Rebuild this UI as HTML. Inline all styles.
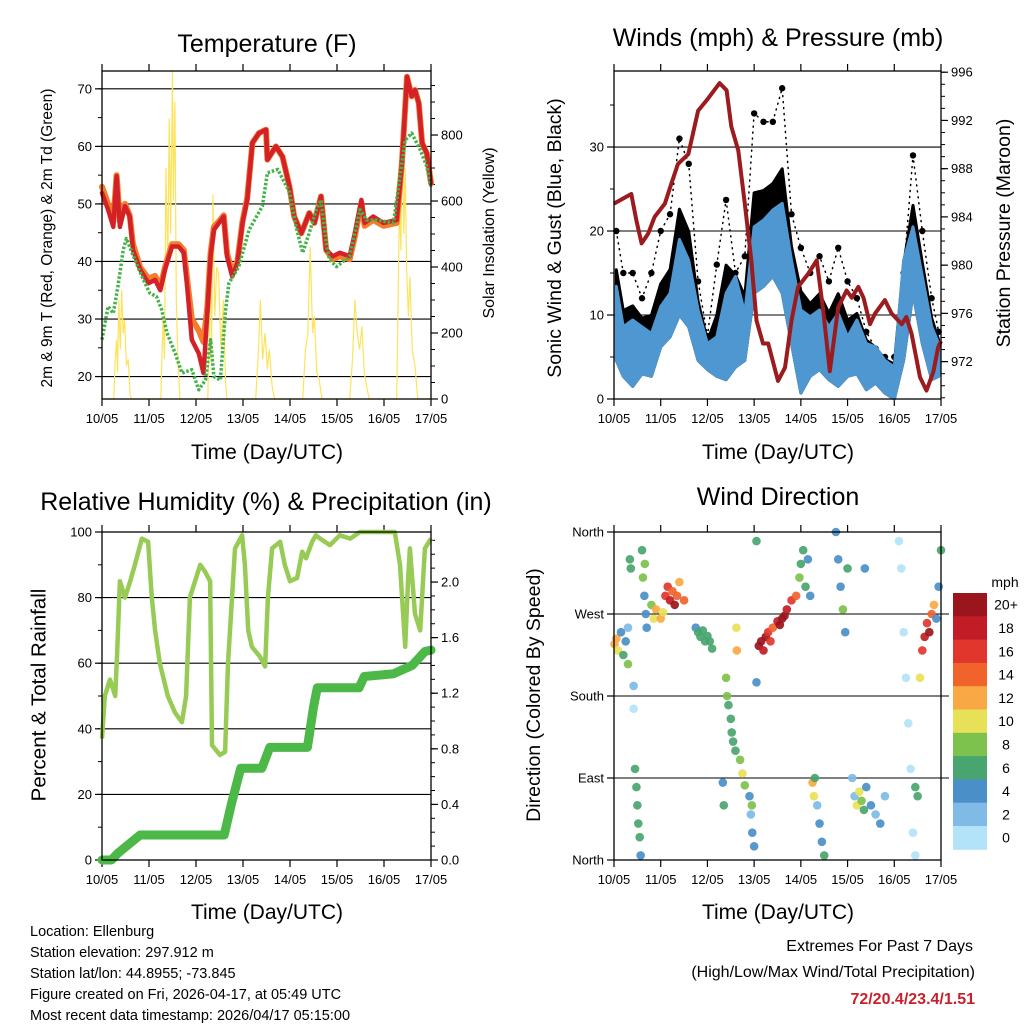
<!DOCTYPE html>
<html><head><meta charset="utf-8">
<style>
html,body{margin:0;padding:0;background:#fff;}
svg{display:block;font-family:"Liberation Sans",sans-serif;}
</style></head>
<body>
<svg id="chart" width="1024" height="1024" viewBox="0 0 1024 1024" xmlns="http://www.w3.org/2000/svg">
<rect x="0" y="0" width="1024" height="1024" fill="#fff"/>
<text x="267" y="52" font-size="25" text-anchor="middle">Temperature (F)</text>
<text x="778" y="46" font-size="25" text-anchor="middle">Winds (mph) &amp; Pressure (mb)</text>
<text x="266" y="510" font-size="25" text-anchor="middle">Relative Humidity (%) &amp; Precipitation (in)</text>
<text x="778" y="505" font-size="25" text-anchor="middle">Wind Direction</text>

<text x="267" y="459" font-size="21" text-anchor="middle">Time (Day/UTC)</text>
<text x="778" y="459" font-size="21" text-anchor="middle">Time (Day/UTC)</text>
<text x="267" y="919" font-size="21" text-anchor="middle">Time (Day/UTC)</text>
<text x="778" y="919" font-size="21" text-anchor="middle">Time (Day/UTC)</text>

<text transform="translate(48,238) rotate(-90)" font-size="15.5" text-anchor="middle" dominant-baseline="middle">2m &amp; 9m T (Red, Orange) &amp; 2m Td (Green)</text>
<text transform="translate(490,233) rotate(-90)" font-size="16" text-anchor="middle" dominant-baseline="middle">Solar Insolation (Yellow)</text>
<text transform="translate(556,238) rotate(-90)" font-size="19.5" text-anchor="middle" dominant-baseline="middle">Sonic Wind &amp; Gust (Blue, Black)</text>
<text transform="translate(1005,233) rotate(-90)" font-size="19.5" text-anchor="middle" dominant-baseline="middle">Station Pressure (Maroon)</text>
<text transform="translate(40,695) rotate(-90)" font-size="20.5" text-anchor="middle" dominant-baseline="middle">Percent &amp; Total Rainfall</text>
<text transform="translate(535,695) rotate(-90)" font-size="19.5" text-anchor="middle" dominant-baseline="middle">Direction (Colored By Speed)</text>

<g font-size="14.5">
<text x="30" y="936">Location: Ellenburg</text>
<text x="30" y="957">Station elevation: 297.912 m</text>
<text x="30" y="978">Station lat/lon: 44.8955; -73.845</text>
<text x="30" y="999">Figure created on Fri, 2026-04-17, at 05:49 UTC</text>
<text x="30" y="1020">Most recent data timestamp: 2026/04/17 05:15:00</text>
</g>
<text x="973" y="951" font-size="16" text-anchor="end">Extremes For Past 7 Days</text>
<text x="975" y="977" font-size="16" text-anchor="end">(High/Low/Max Wind/Total Precipitation)</text>
<text x="975" y="1004" font-size="16" font-weight="bold" fill="#c8202a" text-anchor="end">72/20.4/23.4/1.51</text>
<text x="1005" y="587" font-size="14" text-anchor="middle">mph</text>
</svg>
<script>
// ---------- DATA ----------
const dayLabels = ['10/05','11/05','12/05','13/05','14/05','15/05','16/05','17/05'];
// Temperature (days since 10/05 00 UTC)
const tempT = [0,0.13,0.24,0.31,0.38,0.49,0.59,0.66,0.81,0.99,1.13,1.24,1.34,1.49,1.63,1.74,1.81,1.91,2.06,2.16,2.24,2.31,2.38,2.49,2.59,2.66,2.77,2.88,2.99,3.09,3.2,3.34,3.49,3.52,3.7,3.84,3.99,4.09,4.24,4.41,4.52,4.66,4.77,4.91,5.06,5.27,5.38,5.52,5.59,5.77,5.99,6.27,6.38,6.49,6.59,6.66,6.74,6.81,6.91,7.0];
const temp2m = [51.9,49,46,54.8,46,49.6,47.8,42,38.6,36.2,36.8,35,38.6,42.6,42.6,41.5,35.7,26.4,24,20.6,31,40.9,45.5,46.7,47.8,40.9,37.4,39.7,46.7,50.7,60.6,62.3,62.9,57.7,60,58.2,53,47.8,44.9,48.4,46.7,51.3,42,40.9,41.5,40.9,44.9,50.7,46.7,47.8,46.7,47.2,57.1,72.1,68.7,69.8,67.5,60.6,58.8,53.6];
const temp9m = [53,50,47,55,47,50,48,43,39,37,37.5,35.5,39,43,43,42,37,30,28,26,32,41.5,46,47,48,41.5,38,40,47,51,60.6,62.3,62.9,57.7,60,58.2,53,47.8,44.9,48.4,46.7,51.3,42,40.4,40.9,40.4,44.4,50.2,46.2,47.2,46.2,46.7,57.1,72.1,68.7,69.8,67.5,60.6,58.8,53.6];
const dewT = [0,0.13,0.24,0.34,0.45,0.52,0.7,0.88,1.02,1.16,1.27,1.38,1.56,1.7,1.91,2.06,2.2,2.31,2.38,2.52,2.63,2.7,2.91,3.13,3.41,3.52,3.74,3.99,4.13,4.27,4.41,4.56,4.66,4.77,4.84,4.99,5.27,5.49,5.63,5.84,6.2,6.34,6.45,6.59,6.77,6.91,7.0];
const dewV = [26.4,32.2,31,35.7,42,44,40.3,36.8,34.5,33.9,31.6,27.6,24,20.6,21.2,17.7,19.4,26.4,20,19.4,31.6,36.2,39.1,45.5,49.6,55.4,56,52,46,41.5,45,49,50.7,43.2,40.3,39.1,40.9,49,47.2,47.2,46.7,54.8,61.1,62.3,59.4,56.5,53];
const solarT = [0,0.25,0.28,0.31,0.33,0.36,0.39,0.42,0.45,0.48,0.52,0.56,0.6,0.63,1.25,1.3,1.33,1.36,1.4,1.43,1.46,1.5,1.52,1.55,1.58,1.62,1.66,2.25,2.28,2.31,2.33,2.36,2.4,2.44,2.48,2.53,2.58,2.63,2.66,3.27,3.33,3.37,3.42,3.47,3.52,3.56,3.62,3.67,4.27,4.33,4.38,4.43,4.48,4.52,4.57,4.62,4.68,5.27,5.33,5.38,5.43,5.48,5.53,5.58,5.64,5.69,6.27,6.3,6.33,6.36,6.39,6.42,6.45,6.48,6.52,6.55,6.6,6.66,6.72,7.0];
const solarV = [0,0,120,180,80,300,150,330,200,240,100,120,10,0,0,250,120,700,400,850,500,994,600,900,300,100,0,0,200,450,100,620,250,400,380,150,300,50,0,0,150,300,120,200,90,150,40,0,0,150,200,460,200,250,80,60,0,0,120,300,200,150,220,80,30,0,0,300,600,450,845,500,700,400,250,370,150,100,0,0];
// Winds
const windT = [0.05,0.2,0.4,0.6,0.8,1.0,1.2,1.4,1.6,1.8,2.0,2.2,2.4,2.6,2.8,3.0,3.2,3.4,3.6,3.8,4.0,4.2,4.4,4.6,4.8,5.0,5.2,5.4,5.6,5.8,6.0,6.2,6.4,6.6,6.8,6.95];
const windHi = [13.4,8.6,9.4,8.6,7.8,11,12.6,19,16.5,10.6,6.6,7.4,12.6,14.6,10.2,20.5,21.3,22.5,23.3,16.5,10.6,9.8,10.6,8.6,10.2,7.4,9.4,6.6,6.2,4.6,3.8,16.5,20.5,14.6,8.6,6.6];
const windLo = [4.6,2.7,1.5,3,2.7,6.2,7.4,10,8.6,4.6,3.5,2.7,2.3,3.8,4.6,12.6,13.4,14.6,12.6,6.6,0.7,2.7,3.5,2.3,1.5,2.7,3,1.1,1.9,0.7,0,4.6,12.6,6.6,2.3,2.7];
const gustV = [20,15,15,12,15,20,22,31,28,14,7.5,16,23.7,15,17,34,33,33,37,22,18,15,17,14,18,14,12,8,6,5,5,15,29,20,12,8];
const presT = [0,0.23,0.37,0.48,0.59,0.73,0.87,1.09,1.23,1.37,1.59,1.8,2.01,2.26,2.41,2.51,2.66,2.8,2.94,3.05,3.19,3.3,3.51,3.66,3.8,3.94,4.16,4.34,4.48,4.62,4.8,4.98,5.09,5.23,5.34,5.48,5.59,5.8,5.94,6.16,6.26,6.37,6.55,6.69,6.84,6.94,7.0];
const presV = [985.1,985.6,985.9,983.7,981.8,982.6,984,985.1,986.8,988.4,989.2,992.8,993.8,995.1,994.5,991.5,989.5,985.1,980.4,975.4,973.5,973.5,970.4,971.5,975.4,978.2,979.3,980.4,976.2,971.2,976.5,977.9,977.3,978.2,977.3,975.1,976,977.1,976,975.1,975.7,974.3,970.7,969.6,971.2,973.2,973.7];
// Humidity & precipitation
const rhT = [0,0.06,0.17,0.28,0.32,0.38,0.49,0.6,0.7,0.85,0.98,1.06,1.13,1.23,1.4,1.55,1.7,1.79,1.87,2.09,2.19,2.3,2.34,2.51,2.62,2.68,2.83,2.98,3.04,3.11,3.19,3.36,3.47,3.53,3.62,3.79,3.89,4.0,4.15,4.26,4.34,4.47,4.55,4.64,4.85,5.06,5.28,5.49,6.23,6.34,6.45,6.51,6.55,6.66,6.77,6.87,7.0];
const rhV = [37,50,55,50,62,85,80,85,90,98,97,80,70,60,50,45,42,50,80,90,88,85,35,32,33,60,95,99,90,70,65,62,59,80,95,97,90,85,86,94,92,97,99,98,96,99,98,100,100,90,65,85,95,75,70,95,98];
const rainT = [0,0.2,0.34,0.81,2.6,2.75,2.95,3.4,3.57,4.37,4.5,4.58,5.47,5.58,6.2,6.6,6.87,7.0];
const rainV = [0,0,0.05,0.18,0.18,0.4,0.66,0.66,0.81,0.81,1.1,1.24,1.24,1.32,1.34,1.4,1.5,1.51];
// Wind direction (degrees, 0=N) and speed
const dirT = [0.01,0.05,0.08, 0.15,0.2,0.25,0.3,0.3, 0.34,0.36, 0.42,0.42, 0.45,0.48,0.5,0.52,0.55,0.57, 0.6,0.62,0.65,0.68,0.7,0.66,
 0.8,0.85,0.9,1.0,1.05,1.1,1.15,1.2,1.25,1.3,1.35,1.4, 1.5, 1.75,1.8,1.85,1.9,1.95,2.0,2.05,2.1,
 2.4,2.42,2.45,2.5,2.52,2.55,2.6, 2.62,2.63, 2.7,2.75,2.8, 2.9,2.93,2.96,3.0,2.95, 2.33,2.35, 3.05,3.05,
 3.1,3.15,3.2,3.25,3.3,3.35,3.4, 3.5,3.55,3.6,3.65,3.7,3.8,3.9, 3.97,4.0,4.05,4.1,4.15,4.2,
 4.25,4.28,4.3,4.35,4.4,4.45,4.5, 4.75,4.8,4.85,4.9,4.95,5.0,
 5.1,5.15,5.2,5.25,5.3,5.35,5.4,5.5,5.6,5.7,5.8, 5.37,
 6.1,6.15,6.2,6.25,6.3,6.35,6.4,6.45, 6.45,6.5, 6.55,6.6,6.65,6.7,6.75,6.8,6.85,6.9,6.95,7.0];
const dirV = [237,243,230, 250,225,240,215,255, 330,320, 191,166, 100,80,60,40,25,5, 340,310,290,270,255,325,
 280,265,275,265,272,290,300,285,295,280,290,305, 285, 255,250,245,252,240,246,240,232,
 200,180,170,155,140,130,120, 255,230, 110,95,82, 70,50,30,15,60, 85,60, 350,195,
 235,240,230,245,250,240,255, 262,258,265,268,275,285,290, 310,325,340,300,330,290,
 85,70,90,60,40,20,5, 360,330,300,275,250,320,
 90,70,60,75,65,55,80,60,50,40,70, 320,
 350,320,250,200,150,100,30,5, 80,70, 200,230,245,260,250,270,280,265,300,340];
const dirS = [12,13,10, 5,6,4,8,3, 7,7, 3,1, 7,6,6,6,6,5, 7,8,4,4,4,9,
 9,11,12,12,10,16,17,18,15,20,14,12, 14, 4,6,6,6,6,6,6,7,
 9,8,7,6,7,6,6, 10,13, 9,10,8, 4,3,4,4,8, 4,6, 6,5,
 20,20,18,20,17,16,15, 18,20,20,20,18,16,14, 8,6,6,6,5,4,
 12,11,6,3,4,5,6, 5,5,4,8,4,6,
 3,2,10,11,9,7,4,4,3,4,3, 4,
 1,1,0,1,1,0,0,1, 6,6, 10,16,18,16,20,14,12,4,4,6];
const speedLabels = ['0','2','4','6','8','10','12','14','16','18','20+'];
const speedColors = ['#b3e3f8','#7fbbe6','#4a8fc7','#49a56f','#7dc24c','#e8e157','#f8a946','#f0632b','#e0362b','#c21d26','#9b161c'];

// ---------- HELPERS ----------
const NS='http://www.w3.org/2000/svg';
const svg=document.getElementById('chart');
function mk(tag,attrs,parent){const e=document.createElementNS(NS,tag);for(const k in attrs)e.setAttribute(k,attrs[k]);(parent||svg).appendChild(e);return e;}
function lin(d0,d1,r0,r1){return v=>r0+(v-d0)/(d1-d0)*(r1-r0);}
function pathD(ts,vs,sx,sy){let d='';const n=Math.min(ts.length,vs.length);for(let i=0;i<n;i++){d+=(i?'L':'M')+sx(ts[i]).toFixed(1)+','+sy(vs[i]).toFixed(1);}return d;}
function grp(name){const g=mk('g',{});


return g;}

function frame(P,name){
  const g=grp(name+'-axes');
  const sx=lin(0,7,P.x0,P.x1);
  for(let d=0;d<dayLabels.length;d++){
    const x=sx(d);
    const t1=mk('line',{x1:x,x2:x,y1:P.y1,y2:P.y1+7,stroke:'#000','stroke-width':1.2},g);
    
    
    const t2=mk('line',{x1:x,x2:x,y1:P.y0,y2:P.y0-7,stroke:'#000','stroke-width':1.2},g);
    
    
    const lb=mk('text',{x:x,y:P.y1+24,'font-size':13,'text-anchor':'middle'},g);
    
    
    lb.textContent=dayLabels[d];
  }
  return {g,sx};
}
function yAxis(g,P,sy,majors,minors,labels,side,grid){
  const x=side==='left'?P.x0:P.x1, dir=side==='left'?-1:1;
  minors.forEach(v=>{const y=sy(v);
    const t=mk('line',{x1:x,x2:x+dir*4,y1:y,y2:y,stroke:'#000','stroke-width':1},g);
    
    });
  majors.forEach((v,i)=>{const y=sy(v);
    if(grid){const gl=mk('line',{x1:P.x0,x2:P.x1,y1:y,y2:y,stroke:'#000','stroke-width':1.1},g);
      
      }
    const t=mk('line',{x1:x,x2:x+dir*7,y1:y,y2:y,stroke:'#000','stroke-width':1.2},g);
    
    
    const lb=mk('text',{x:x+dir*10,y:y+4.5,'font-size':13,'text-anchor':side==='left'?'end':'start'},g);
    
    
    lb.textContent=labels[i];});
}
function border(P){const r=mk('rect',{x:P.x0,y:P.y0,width:P.x1-P.x0,height:P.y1-P.y0,fill:'none',stroke:'#000','stroke-width':1.3});

}
function range(a,b,s){const r=[];for(let v=a;v<=b+1e-9;v+=s)r.push(+v.toFixed(3));return r;}

// ---------- PANEL 1: TEMPERATURE ----------
{
  const P={x0:102,x1:431,y0:71,y1:399};
  const {g,sx}=frame(P,'temperature');
  const sy=lin(16.1,73.1,P.y1,P.y0);
  const sS=lin(0,994,P.y1,P.y0);
  const tMaj=[20,30,40,50,60,70];
  yAxis(g,P,sy,tMaj,range(20,70,5),tMaj.map(String),'left',true);
  const sMaj=[0,200,400,600,800];
  yAxis(g,P,sS,sMaj,range(0,950,50),sMaj.map(String),'right',false);
  const sol=mk('path',{d:pathD(solarT,solarV,sx,sS),fill:'none',stroke:'#fde35c','stroke-width':1.2});
  
  
  const o=mk('path',{d:pathD(tempT,temp9m,sx,sy),fill:'none',stroke:'#f47d2c','stroke-width':6,'stroke-linejoin':'round','stroke-linecap':'round'});
  
  
  const r=mk('path',{d:pathD(tempT,temp2m,sx,sy),fill:'none',stroke:'#d42027','stroke-width':4.5,'stroke-linejoin':'round','stroke-linecap':'round'});
  
  
  const dw=mk('path',{d:pathD(dewT,dewV,sx,sy),fill:'none',stroke:'#45b34a','stroke-width':3.5,'stroke-dasharray':'2.5,1.8','stroke-linejoin':'round'});
  
  
  border(P);
}

// ---------- PANEL 2: WINDS & PRESSURE ----------
{
  const P={x0:614,x1:941,y0:71,y1:399};
  const {g,sx}=frame(P,'winds');
  const sy=lin(0,39.05,P.y1,P.y0);
  const sp=lin(968.9,996.1,P.y1,P.y0);
  const wMaj=[0,10,20,30];
  yAxis(g,P,sy,wMaj,range(0,35,5),wMaj.map(String),'left',true);
  const pMaj=[972,976,980,984,988,992,996];
  yAxis(g,P,sp,pMaj,range(969,996,1),pMaj.map(String),'right',false);
  let d='';
  windT.forEach((t,i)=>{d+=(i?'L':'M')+sx(t).toFixed(1)+','+sy(windHi[i]*0.7+gustV[i]*0.3).toFixed(1);});
  for(let i=windT.length-1;i>=0;i--){d+='L'+sx(windT[i]).toFixed(1)+','+sy(windLo[i]).toFixed(1);}
  const gb=mk('path',{d:d+'Z',fill:'#000',stroke:'#000','stroke-width':3,'stroke-linejoin':'round'});
  
  
  const gl=mk('path',{d:pathD(windT,gustV,sx,sy),fill:'none',stroke:'#000','stroke-width':1.5,'stroke-dasharray':'1,5','stroke-linecap':'round'});
  
  
  windT.forEach((t,i)=>{
    const c=mk('circle',{cx:sx(t),cy:sy(gustV[i]),r:3.2,fill:'#000'});
    
    
  });
  let b='';
  windT.forEach((t,i)=>{b+=(i?'L':'M')+sx(t).toFixed(1)+','+sy(windHi[i]).toFixed(1);});
  for(let i=windT.length-1;i>=0;i--){b+='L'+sx(windT[i]).toFixed(1)+','+sy(windLo[i]).toFixed(1);}
  const bb=mk('path',{d:b+'Z',fill:'#4e97d1',stroke:'#4e97d1','stroke-width':3,'stroke-linejoin':'round'});
  
  
  const pr=mk('path',{d:pathD(presT,presV,sx,sp),fill:'none',stroke:'#9b1b1e','stroke-width':4,'stroke-linejoin':'round'});
  
  
  border(P);
}

// ---------- PANEL 3: HUMIDITY & PRECIP ----------
{
  const P={x0:102,x1:431,y0:532,y1:860};
  const {g,sx}=frame(P,'humidity');
  const sy=lin(0,100,P.y1,P.y0);
  const sr=lin(0,2.36,P.y1,P.y0);
  const hMaj=[0,20,40,60,80,100];
  yAxis(g,P,sy,hMaj,range(0,100,10),hMaj.map(String),'left',true);
  const rMaj=[0,0.4,0.8,1.2,1.6,2.0];
  yAxis(g,P,sr,rMaj,range(0,2.3,0.1),rMaj.map(v=>v.toFixed(1)),'right',false);
  const rn=mk('path',{d:pathD(rainT,rainV,sx,sr),fill:'none',stroke:'#4cb848','stroke-width':9,'stroke-linejoin':'round','stroke-linecap':'round'});
  
  
  const rh=mk('path',{d:pathD(rhT,rhV,sx,sy),fill:'none',stroke:'#97cb55','stroke-width':4.5,'stroke-linejoin':'round'});
  
  
  border(P);
}

// ---------- PANEL 4: WIND DIRECTION ----------
{
  const P={x0:614,x1:941,y0:532,y1:860};
  const {g,sx}=frame(P,'wind-direction');
  const sy=lin(0,360,P.y1,P.y0);
  yAxis(g,P,sy,[0,90,180,270,360],[],['North','East','South','West','North'],'left',false);
  [90,180,270].forEach(v=>{
    const gl=mk('line',{x1:P.x0,x2:P.x1+8,y1:sy(v),y2:sy(v),stroke:'#000','stroke-width':1.1},g);
    
    
  });
  const n=Math.min(dirT.length,dirV.length,dirS.length);
  for(let i=0;i<n;i++){
    const bin=Math.min(10,Math.floor(dirS[i]/2));
    const c=mk('circle',{cx:sx(dirT[i]),cy:sy(dirV[i]),r:4.3,fill:speedColors[bin],'fill-opacity':0.92});
    
    
  }
  border(P);
  const cb=grp('speed-colorbar');
  const h=23.3;
  for(let k=0;k<speedColors.length;k++){
    const idx=speedColors.length-1-k;
    const y=593+k*h;
    const r=mk('rect',{x:953,y:y,width:34,height:h+0.5,fill:speedColors[idx]},cb);
    
    
    const t=mk('text',{x:1006,y:y+h/2+5,'font-size':14,'text-anchor':'middle'},cb);
    
    
    t.textContent=speedLabels[idx];
  }
}
</script>
</body></html>
